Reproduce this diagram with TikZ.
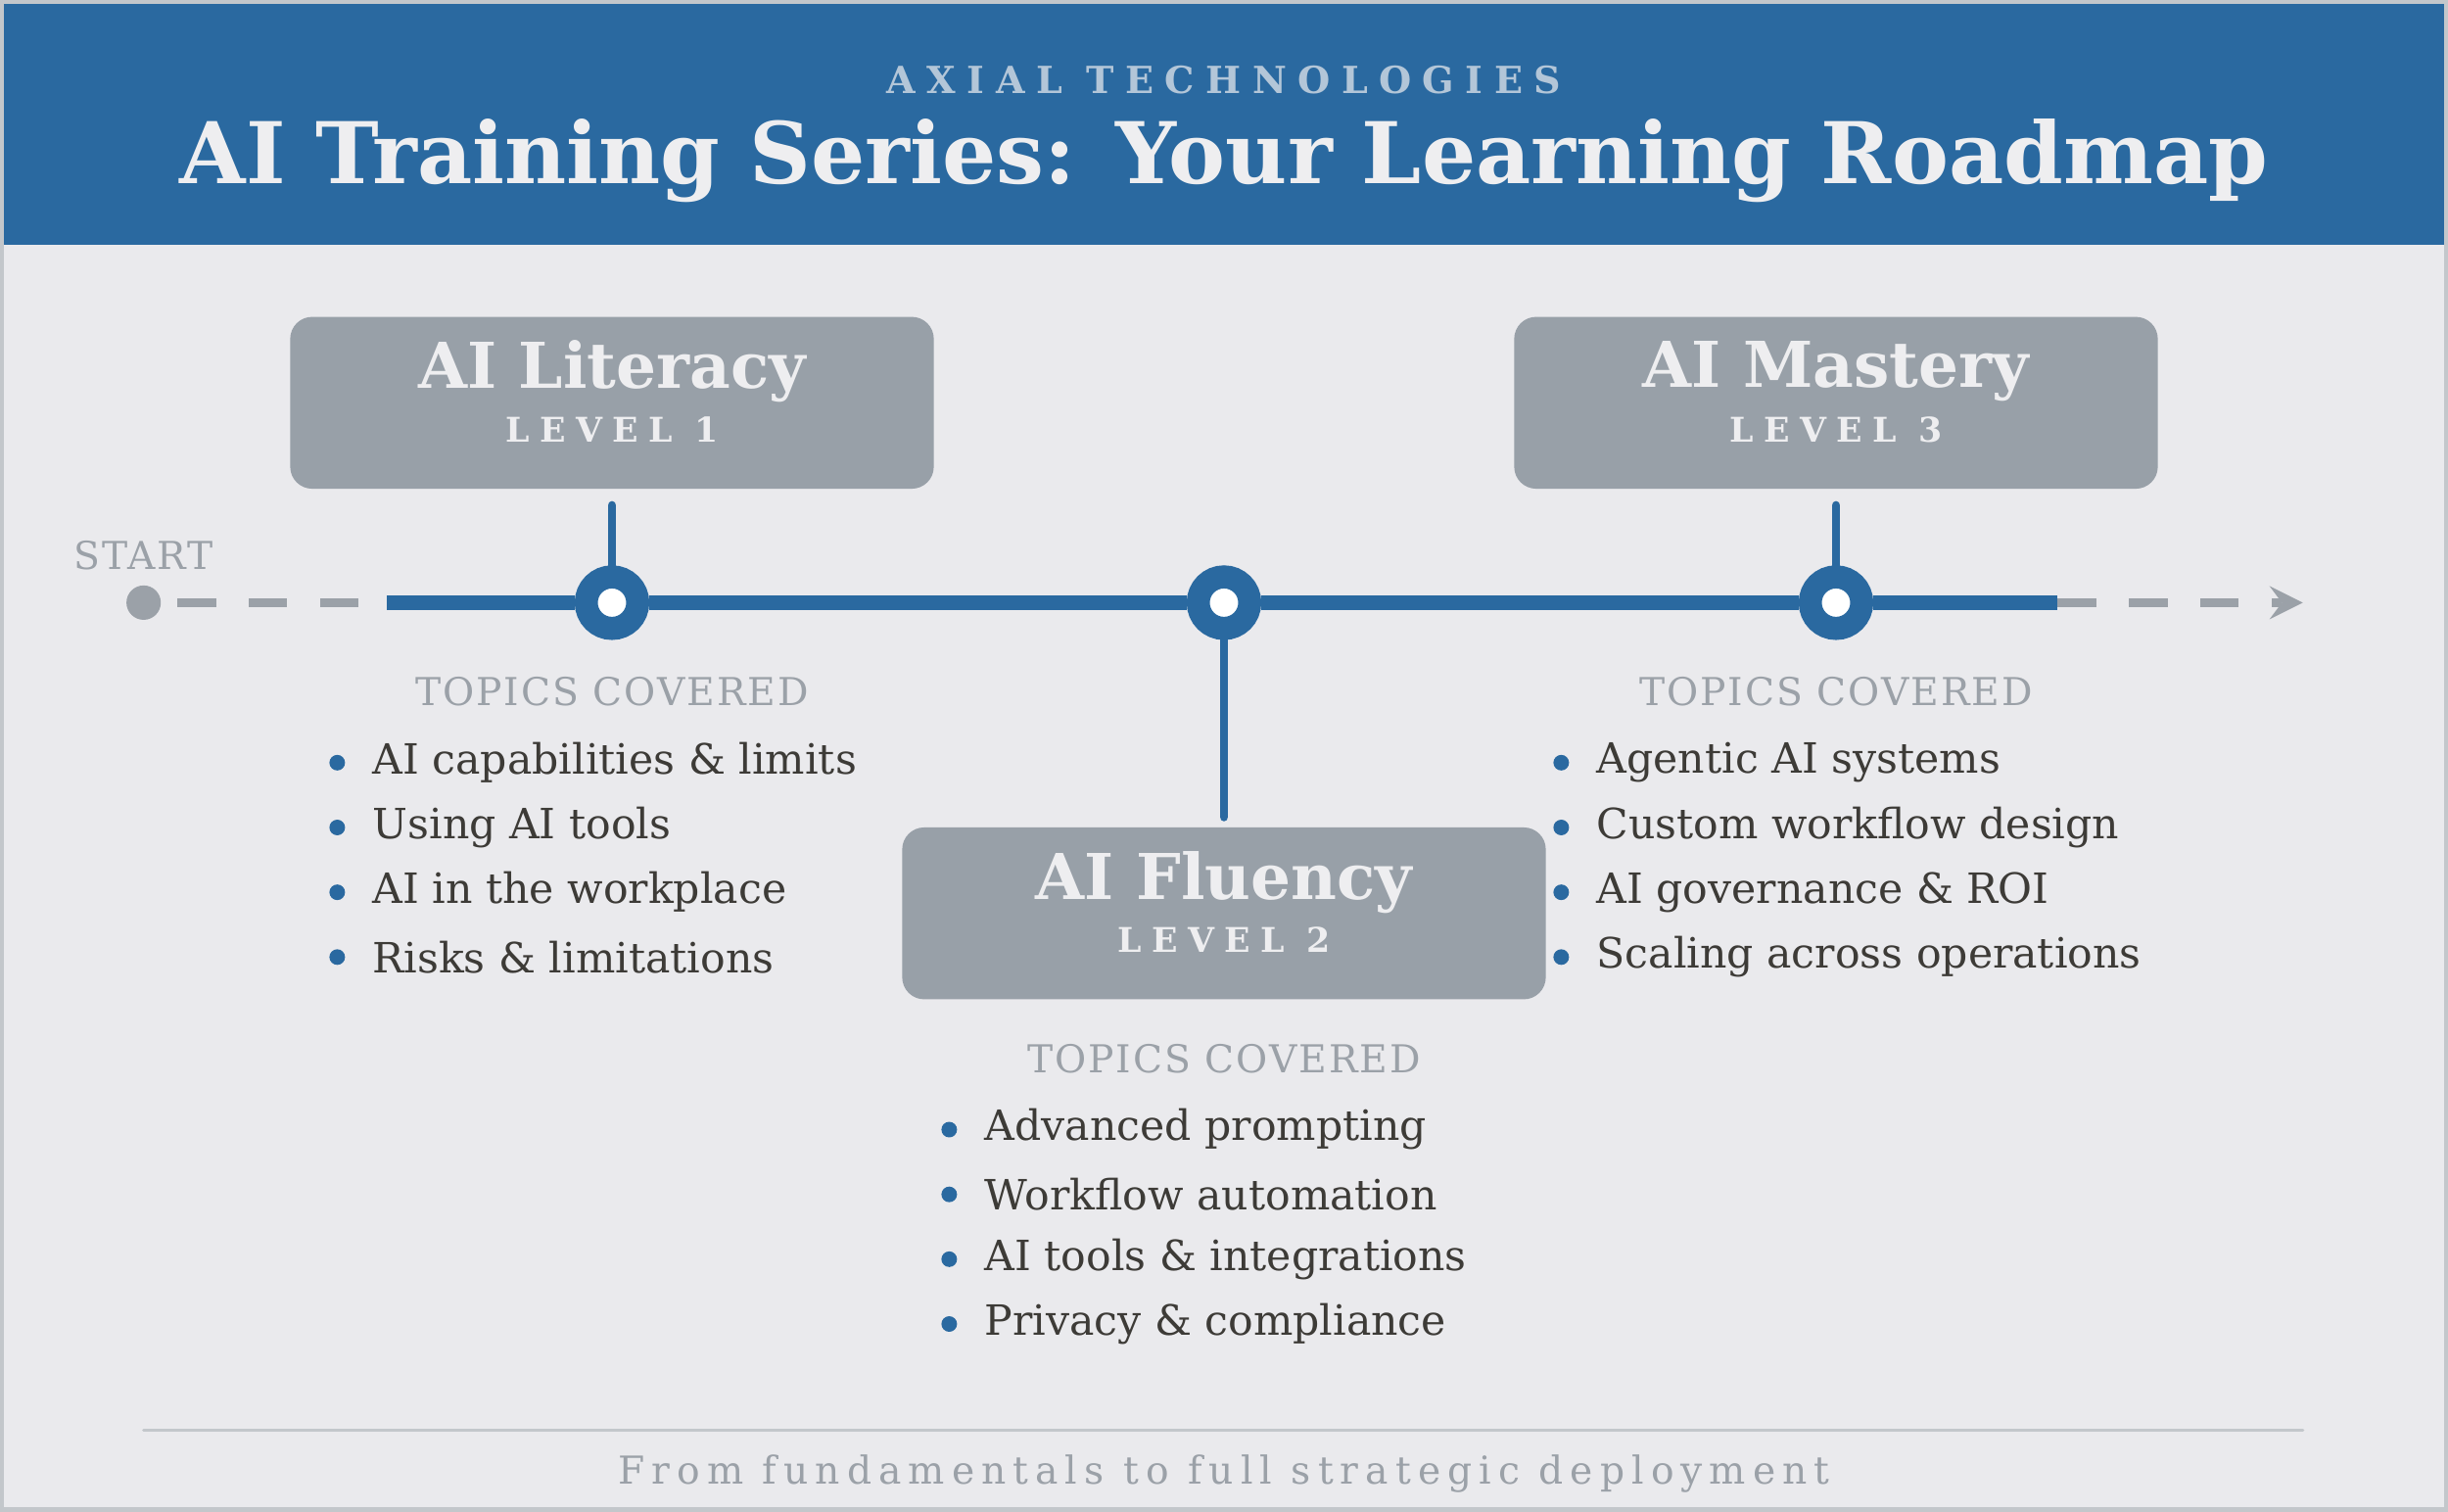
\documentclass[tikz,border=0pt]{standalone}
\usepackage{fontspec}
\setmainfont{DejaVu Serif}
\usetikzlibrary{positioning}
\definecolor{hdrblue}{HTML}{2A69A0}
\definecolor{bgcol}{HTML}{EAEAED}
\definecolor{boxgrey}{HTML}{98A0A8}
\definecolor{lightgrey}{HTML}{9BA1A8}
\definecolor{bodytext}{HTML}{3D3B37}
\definecolor{paletxt}{HTML}{EEEEF0}
\tikzset{
  levelbox/.style={fill=boxgrey,rounded corners=4pt,minimum width=4.12cm,minimum height=1.1cm,inner sep=0pt},
  milestone/.style={circle,draw=hdrblue,line width=4.2pt,fill=white,minimum size=0.33cm,inner sep=0pt},
  topichead/.style={text=lightgrey,font=\fontsize{7}{8}\selectfont\addfontfeatures{LetterSpace=5}},
  topic/.style={text=bodytext,font=\fontsize{7.6}{9}\selectfont,anchor=west,inner sep=0pt},
  dot/.style={circle,fill=hdrblue,inner sep=0pt,minimum size=0.1cm},
}
\begin{document}
\begin{tikzpicture}[x=0.01cm,y=-0.01cm,line cap=round,>=stealth]
\useasboundingbox (0,0) rectangle (1568,968);
\fill[bgcol] (0,0) rectangle (1568,968);
\fill[hdrblue] (0,0) rectangle (1568,157);
\draw[lightgrey!60,line width=1pt] (1,1) rectangle (1567,967);
% header
\node[text=paletxt!70!hdrblue,font=\bfseries\fontsize{6.8}{8}\selectfont\addfontfeatures{LetterSpace=30}] (brand) at (784,51) {AXIAL TECHNOLOGIES};
\node[text=paletxt,font=\bfseries\fontsize{15.5}{18}\selectfont] (title) at (784,103) {AI Training Series: Your Learning Roadmap};
% timeline
\node[circle,fill=lightgrey,inner sep=0pt,minimum size=0.22cm] (start) at (92,386) {};
\node[text=lightgrey,font=\fontsize{7}{8}\selectfont\addfontfeatures{LetterSpace=5}] (startlbl) at (92,356) {START};
\coordinate (solidA) at (248,386);
\coordinate (solidB) at (1318,386);
\coordinate (arrowend) at (1475,386);
\node[milestone] (m1) at (392,386) {};
\node[milestone] (m2) at (784,386) {};
\node[milestone] (m3) at (1176,386) {};
\draw[lightgrey,line width=1.6pt,dash pattern=on 7pt off 6pt,line cap=butt] (start.east) ++(10,0) -- (solidA);
\draw[lightgrey,line width=1.6pt,dash pattern=on 7pt off 6pt,line cap=butt,->] (solidB) -- (arrowend);
\draw[hdrblue,line width=2.6pt,line cap=butt] (solidA) -- (m1) -- (m2) -- (m3) -- (solidB);
% level boxes
\node[levelbox] (lv1) at (392,258) {};
\node[levelbox] (lv2) at (784,585) {};
\node[levelbox] (lv3) at (1176,258) {};
\foreach \b/\n/\t in {lv1/1/AI Literacy,lv2/2/AI Fluency,lv3/3/AI Mastery}{
  \node[text=paletxt,font=\bfseries\fontsize{6.2}{7}\selectfont\addfontfeatures{LetterSpace=30}] at ([yshift=-0.17cm]\b.center) {LEVEL \n};
  \node[text=paletxt,font=\bfseries\fontsize{11.5}{13}\selectfont] at ([yshift=0.2cm]\b.center) {\t};
}
\draw[hdrblue,line width=1.6pt] ([yshift=-0.1cm]lv1.south) -- (m1);
\draw[hdrblue,line width=1.6pt] ([yshift=-0.1cm]lv3.south) -- (m3);
\draw[hdrblue,line width=1.6pt] (m2) -- ([yshift=0.06cm]lv2.north);
% topics
\node[topichead] (th1) at (392,443) {TOPICS COVERED};
\node[topichead] (th2) at (784,678) {TOPICS COVERED};
\node[topichead] (th3) at (1176,443) {TOPICS COVERED};
\foreach \t [count=\i] in {AI capabilities \& limits,Using AI tools,AI in the workplace,Risks \& limitations}{
  \node[dot] at (216,447+41.5*\i) {};
  \node[topic] at (238,447+41.5*\i) {\t};
}
\foreach \t [count=\i] in {Advanced prompting,Workflow automation,AI tools \& integrations,Privacy \& compliance}{
  \node[dot] at (608,682+41.5*\i) {};
  \node[topic] at (630,682+41.5*\i) {\t};
}
\foreach \t [count=\i] in {Agentic AI systems,Custom workflow design,AI governance \& ROI,Scaling across operations}{
  \node[dot] at (1000,447+41.5*\i) {};
  \node[topic] at (1022,447+41.5*\i) {\t};
}
% footer
\draw[lightgrey!60,line width=0.6pt] (92,916) -- (1475,916);
\node[text=lightgrey,font=\fontsize{7}{8}\selectfont\addfontfeatures{LetterSpace=18}] (footer) at (784,944) {From fundamentals to full strategic deployment};
\end{tikzpicture}
\end{document}
